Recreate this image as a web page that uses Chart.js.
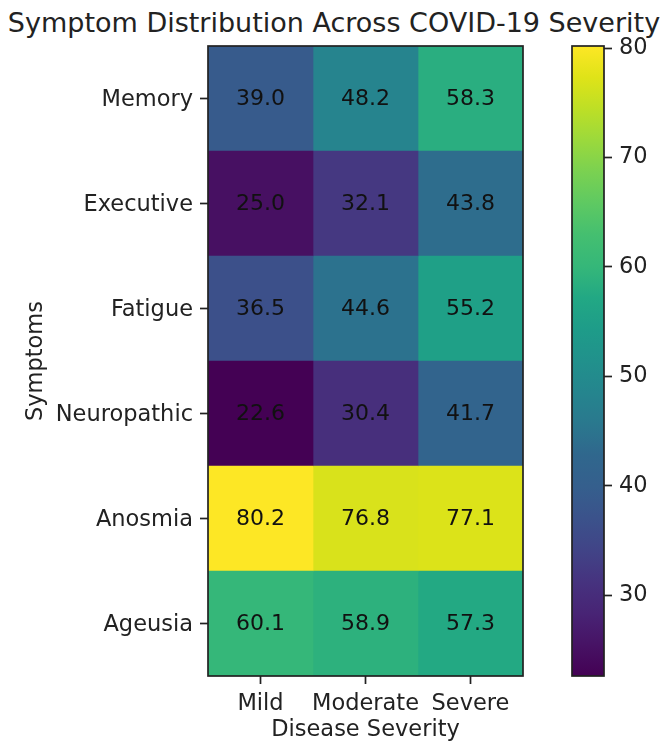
<!DOCTYPE html>
<html>
<head>
<meta charset="utf-8">
<script src="https://cdn.jsdelivr.net/npm/chart.js@4/dist/chart.umd.min.js"></script>
<style>
  html, body { margin: 0; padding: 0; background: #fff; }
  #wrap { position: relative; width: 666px; height: 744px; overflow: hidden; }
  #title { position: absolute; left: 0; width: 668px; top: 7px; text-align: center;
           font: 27px "DejaVu Sans"; color: #222; line-height: 32px; white-space: nowrap; }
  #heat { position: absolute; left: 0; top: 0; width: 540px; height: 744px; }
  #cbar { position: absolute; left: 540px; top: 0; width: 126px; height: 744px; }
</style>
</head>
<body>
<div id="wrap">
  <div id="title">Symptom Distribution Across COVID-19 Severity</div>
  <canvas id="heat" width="540" height="744"></canvas>
  <canvas id="cbar" width="126" height="744"></canvas>
</div>
<script>
// Rows and columns of the heatmap
const symptoms = ['Memory', 'Executive', 'Fatigue', 'Neuropathic', 'Anosmia', 'Ageusia'];
const severities = ['Mild', 'Moderate', 'Severe'];

// Percentages per severity column, in the order of the symptom rows
const mild     = [39.0, 25.0, 36.5, 22.6, 80.2, 60.1];
const moderate = [48.2, 32.1, 44.6, 30.4, 76.8, 58.9];
const severe   = [58.3, 43.8, 55.2, 41.7, 77.1, 57.3];

// Colorbar tick labels
const colorbarTicks = [30, 40, 50, 60, 70, 80];

const columns = [mild, moderate, severe];
const allValues = columns.flat();
const vmin = Math.min(...allValues);
const vmax = Math.max(...allValues);

// Viridis colormap anchors
const VIRIDIS = ['#440154', '#471365', '#482475', '#46337f', '#414487', '#3b528b', '#355f8d',
  '#30678d', '#2a788e', '#25858e', '#21918c', '#1e9c89', '#22a884', '#35b779', '#44bf70',
  '#5ec962', '#7ad151', '#9bd93c', '#bddf26', '#dfe318', '#fde725'];

function hexToRgb(h) {
  return [parseInt(h.slice(1, 3), 16), parseInt(h.slice(3, 5), 16), parseInt(h.slice(5, 7), 16)];
}
function viridis(t) {
  t = Math.max(0, Math.min(1, t));
  const pos = t * (VIRIDIS.length - 1);
  const i = Math.min(Math.floor(pos), VIRIDIS.length - 2);
  const f = pos - i;
  const a = hexToRgb(VIRIDIS[i]), b = hexToRgb(VIRIDIS[i + 1]);
  const c = a.map((v, k) => Math.round(v + (b[k] - v) * f));
  return `rgb(${c[0]},${c[1]},${c[2]})`;
}
const norm = v => (v - vmin) / (vmax - vmin);

const FONT = 'DejaVu Sans';
const INK = '#222';

// Frame around the plotting area
const framePlugin = {
  id: 'frame',
  afterDatasetsDraw(chart) {
    const { ctx, chartArea: a } = chart;
    ctx.save();
    ctx.strokeStyle = INK;
    ctx.lineWidth = 1.7;
    ctx.strokeRect(a.left, a.top, a.right - a.left, a.bottom - a.top);
    ctx.restore();
  }
};

// Value labels in the middle of each cell
const cellLabels = {
  id: 'cellLabels',
  afterDatasetsDraw(chart) {
    const { ctx } = chart;
    ctx.save();
    ctx.font = `22px "${FONT}"`;
    ctx.fillStyle = '#111';
    ctx.textAlign = 'center';
    ctx.textBaseline = 'middle';
    chart.data.datasets.forEach((ds, d) => {
      chart.getDatasetMeta(d).data.forEach((el, i) => {
        const cx = (el.x + el.base) / 2;
        ctx.fillText(ds.values[i].toFixed(1), cx, el.y + 1);
      });
    });
    ctx.restore();
  }
};

const tickFont = { family: FONT, size: 22.5 };

new Chart(document.getElementById('heat'), {
  type: 'bar',
  data: {
    labels: symptoms,
    datasets: columns.map((vals, c) => ({
      label: severities[c],
      data: vals.map(() => [c, c + 1]),
      values: vals,
      backgroundColor: vals.map(v => viridis(norm(v))),
      borderWidth: 0,
      barPercentage: 1,
      categoryPercentage: 1,
      grouped: false
    }))
  },
  options: {
    indexAxis: 'y',
    responsive: false,
    animation: false,
    events: [],
    layout: { padding: { left: 23, top: 46, right: 17, bottom: 0 } },
    plugins: { legend: { display: false }, tooltip: { enabled: false } },
    scales: {
      y: {
        type: 'category',
        offset: true,
        grid: { offset: false, drawOnChartArea: false, tickLength: 8, tickWidth: 1.7, color: INK },
        border: { display: false },
        ticks: { font: tickFont, color: INK, padding: 7, labelOffset: 2 },
        title: { display: true, text: 'Symptoms', font: tickFont, color: INK, padding: 0 },
        afterFit(s) { s.width = 185; }
      },
      x: {
        type: 'linear',
        min: 0,
        max: 3,
        afterBuildTicks(s) { s.ticks = [0.5, 1.5, 2.5].map(v => ({ value: v })); },
        grid: { drawOnChartArea: false, tickLength: 8, tickWidth: 1.7, color: INK },
        border: { display: false },
        ticks: {
          font: tickFont, color: INK, padding: 7, autoSkip: false, maxRotation: 0,
          callback: v => severities[Math.floor(v)]
        },
        title: { display: true, text: 'Disease Severity', font: tickFont, color: INK, padding: 0 },
        afterFit(s) { s.height = 68; }
      }
    }
  },
  plugins: [cellLabels, framePlugin]
});

// Colorbar: one floating bar spanning the value range, filled with the colormap
new Chart(document.getElementById('cbar'), {
  type: 'bar',
  data: {
    labels: [''],
    datasets: [{
      data: [[vmin, vmax]],
      backgroundColor(ctx) {
        const area = ctx.chart.chartArea;
        if (!area) return '#888';
        const g = ctx.chart.ctx.createLinearGradient(0, area.bottom, 0, area.top);
        VIRIDIS.forEach((c, i) => g.addColorStop(i / (VIRIDIS.length - 1), c));
        return g;
      },
      borderWidth: 0,
      barPercentage: 1,
      categoryPercentage: 1
    }]
  },
  options: {
    responsive: false,
    animation: false,
    events: [],
    layout: { padding: { left: 32, top: 46, right: 0, bottom: 68 } },
    plugins: { legend: { display: false }, tooltip: { enabled: false } },
    scales: {
      x: { display: false },
      y: {
        position: 'right',
        min: vmin,
        max: vmax,
        afterBuildTicks(s) { s.ticks = colorbarTicks.map(v => ({ value: v })); },
        grid: { drawOnChartArea: false, tickLength: 8, tickWidth: 1.7, color: INK },
        border: { display: false },
        ticks: { font: tickFont, color: INK, padding: 7 },
        afterFit(s) { s.width = 62; }
      }
    }
  },
  plugins: [framePlugin]
});
</script>
</body>
</html>
